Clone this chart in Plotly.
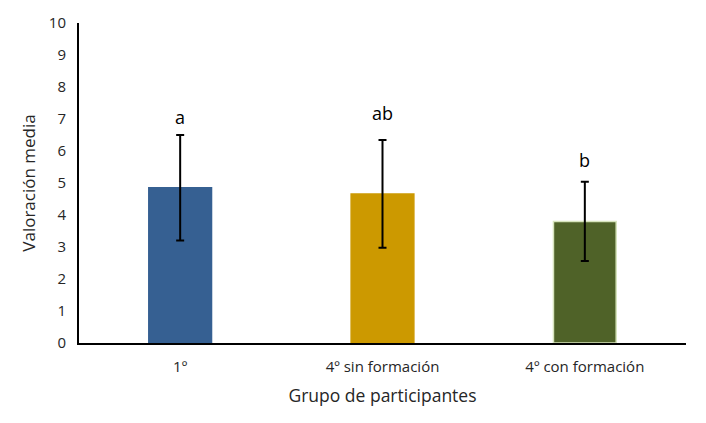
import plotly.graph_objects as go

categories = ["1º", "4º sin formación", "4º con formación"]
means = [4.85, 4.66, 3.80]
errors = [1.65, 1.68, 1.24]
letters = ["a", "ab", "b"]
letter_y = [7.07, 7.19, 5.72]
colors = ["#366092", "#CC9900", "#4F6228"]
line_colors = ["#366092", "#CC9900", "#D7E4BD"]

font = "Open Sans, Lato, sans-serif"

fig = go.Figure()
fig.add_trace(go.Bar(
    x=categories, y=means,
    marker=dict(color=colors, line=dict(color=line_colors, width=1.5)),
    error_y=dict(type="data", array=errors, visible=True, color="black", thickness=2, width=4),
    showlegend=False,
))
for c, t, yy in zip(categories, letters, letter_y):
    fig.add_annotation(x=c, y=yy, text=t, showarrow=False, font=dict(size=18, color="black", family=font))

fig.update_layout(
    width=706, height=423,
    margin=dict(l=79, r=20, t=23, b=80),
    paper_bgcolor="white", plot_bgcolor="white",
    bargap=0.69,
    font=dict(family=font, color="#262626"),
    xaxis=dict(
        showline=True, linecolor="black", linewidth=2,
        ticks="", tickfont=dict(size=15, color="#262626"), ticklabelstandoff=9,
        title=dict(text="Grupo de participantes", font=dict(size=17.5, color="#262626"), standoff=15),
    ),
    yaxis=dict(
        range=[0, 10], dtick=1, showgrid=False, zeroline=False,
        showline=True, linecolor="black", linewidth=2,
        ticks="", tickfont=dict(size=15, color="#262626"), ticklabelstandoff=8,
        title=dict(text="Valoración media", font=dict(size=17, color="#262626"), standoff=9),
    ),
)
fig.write_html("out.html")
